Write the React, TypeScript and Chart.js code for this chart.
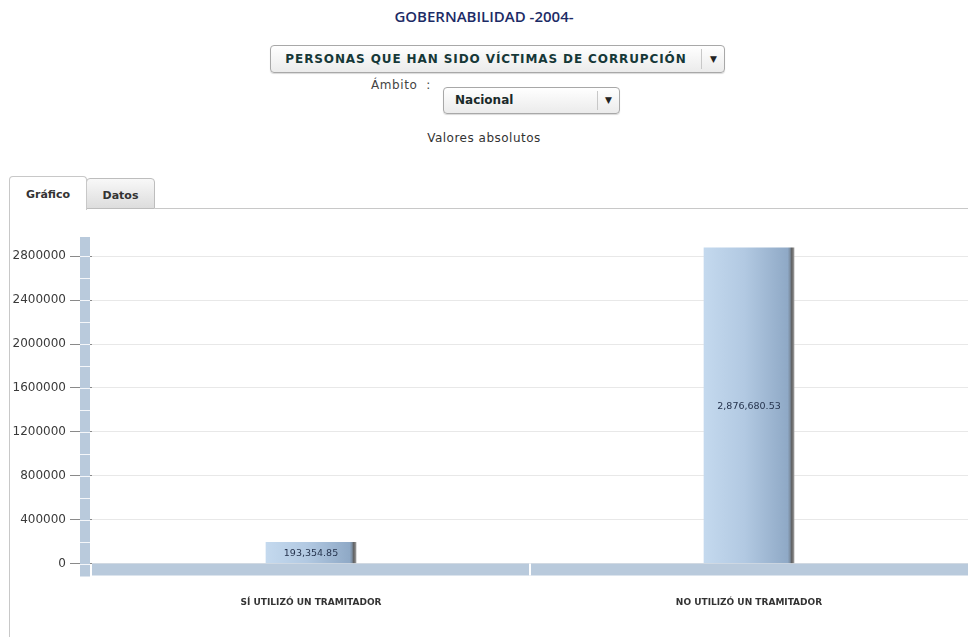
import React, { useEffect, useRef } from "react";
import { Chart, registerables } from "chart.js";

Chart.register(...registerables);

const TITLE = "GOBERNABILIDAD -2004-";
const INDICATOR = "PERSONAS QUE HAN SIDO VÍCTIMAS DE CORRUPCIÓN";
const SCOPE_LABEL = "Ámbito :";
const SCOPE = "Nacional";
const SUBTITLE = "Valores absolutos";
const TABS = ["Gráfico", "Datos"];

const categories = ["SÍ UTILIZÓ UN TRAMITADOR", "NO UTILIZÓ UN TRAMITADOR"];
const values = [193354.85, 2876680.53];
const yTickStep = 400000;
const yTickCount = 8;
const yMax = 2975000;

const fmt = (v: number) =>
  v.toLocaleString("en-US", { minimumFractionDigits: 2, maximumFractionDigits: 2 });

const decorPlugin = {
  id: "decor",
  beforeDatasetsDraw(chart: any) {
    const { ctx, chartArea, scales } = chart;
    const y = scales.y;
    const zero = y.getPixelForValue(0);
    ctx.save();
    ctx.fillStyle = "#b9cadc";
    ctx.fillRect(chartArea.left, zero, chartArea.right - chartArea.left, 12);
    const sepX = (scales.x.getPixelForValue(0) + scales.x.getPixelForValue(1)) / 2;
    ctx.fillStyle = "#ffffff";
    ctx.fillRect(sepX - 1, zero, 2, 12);
    ctx.fillStyle = "#b9cadc";
    ctx.fillRect(chartArea.left - 12, chartArea.top, 10, zero + 13 - chartArea.top);
    ctx.fillStyle = "rgba(255,255,255,0.85)";
    for (let v = 0; v <= yMax; v += yTickStep / 2) {
      const py = Math.round(y.getPixelForValue(v));
      ctx.fillRect(chartArea.left - 12, py, 10, 1);
    }
    ctx.restore();
  },
  afterDatasetsDraw(chart: any) {
    const { ctx } = chart;
    const meta = chart.getDatasetMeta(0);
    ctx.save();
    ctx.font = "9.5px 'DejaVu Sans'";
    ctx.fillStyle = "#26344e";
    ctx.textAlign = "center";
    ctx.textBaseline = "middle";
    meta.data.forEach((bar: any, i: number) => {
      const p = bar.getProps(["x", "y", "base"], true);
      ctx.fillText(fmt(values[i]), p.x, (p.y + p.base) / 2 + 1);
    });
    ctx.restore();
  },
};

function ChartCanvas() {
  const ref = useRef<HTMLCanvasElement | null>(null);
  useEffect(() => {
    if (!ref.current) return;
    const chart = new Chart(ref.current, {
      type: "bar",
      data: {
        labels: categories,
        datasets: [
          {
            data: values,
            barThickness: 90,
            backgroundColor: (c: any) => {
              const ch = c.chart;
              if (!ch.chartArea) return "#a9c1db";
              const x = ch.scales.x.getPixelForValue(c.dataIndex);
              const g = ch.ctx.createLinearGradient(x - 45, 0, x + 45, 0);
              g.addColorStop(0, "#c4d9ee");
              g.addColorStop(0.45, "#b2c9e2");
              g.addColorStop(0.93, "#8fa9c6");
              g.addColorStop(0.955, "#7d8fa3");
              g.addColorStop(0.975, "#5e5e5e");
              g.addColorStop(1, "#9a9a9a");
              return g;
            },
            borderWidth: 0,
          },
        ],
      },
      options: {
        animation: false,
        responsive: false,
        maintainAspectRatio: false,
        layout: { padding: { top: 22, left: 0, right: 0, bottom: 0 } },
        plugins: { legend: { display: false }, tooltip: { enabled: false } },
        scales: {
          x: {
            grid: { display: false, drawTicks: false },
            border: { display: false },
            ticks: {
              padding: 34,
              color: "#333333",
              font: { family: "'DejaVu Sans'", size: 9, weight: "bold" },
            },
            afterFit: (s: any) => {
              s.height = 73.5;
            },
          },
          y: {
            min: 0,
            max: yMax,
            afterBuildTicks: (s: any) => {
              const t: any[] = [];
              for (let i = 0; i < yTickCount; i++) t.push({ value: i * yTickStep });
              s.ticks = t;
            },
            ticks: {
              padding: 4,
              color: "#3a3a3a",
              font: { family: "'DejaVu Sans'", size: 12 },
              callback: (v: any) => String(v),
            },
            grid: { color: "#e8e8e8", tickColor: "#8a8a8a", tickLength: 22 },
            border: { display: false },
            afterFit: (s: any) => {
              s.width = 92;
            },
          },
        },
      },
      plugins: [decorPlugin],
    } as any);
    return () => chart.destroy();
  }, []);
  return (
    <canvas
      ref={ref}
      width={968}
      height={422}
      style={{ position: "absolute", left: 0, top: 215, width: 968, height: 422 }}
    />
  );
}

export default function App() {
  const font = "'DejaVu Sans', sans-serif";
  return (
    <div
      style={{
        position: "absolute",
        left: 0,
        top: 0,
        width: 968,
        height: 637,
        overflow: "hidden",
        background: "#ffffff",
        fontFamily: font,
      }}
    >
      <div
        style={{
          position: "absolute",
          top: 6,
          left: 0,
          width: 968,
          textAlign: "center",
          fontSize: 15,
          color: "#1c2b66",
          fontFamily: "'Open Sans', sans-serif",
          fontWeight: 600,
        }}
      >
        {TITLE}
      </div>
      <div
        style={{
          position: "absolute",
          left: 270,
          top: 45,
          width: 455,
          height: 28,
          boxSizing: "border-box",
          border: "1px solid #a8a8a8",
          borderRadius: 4,
          background: "linear-gradient(#ffffff, #ebebeb)",
          boxShadow: "0 1px 1px rgba(0,0,0,0.15)",
        }}
      >
        <div
          style={{
            position: "absolute",
            left: 0,
            top: 0,
            width: 430,
            lineHeight: "26px",
            textAlign: "center",
            fontWeight: "bold",
            fontSize: 12,
            letterSpacing: 0.9,
            color: "#163838",
            whiteSpace: "nowrap",
          }}
        >
          {INDICATOR}
        </div>
        <div style={{ position: "absolute", left: 430, top: 3, width: 1, height: 20, background: "#c8c8c8" }} />
        <div
          style={{
            position: "absolute",
            left: 431,
            top: 0,
            width: 23,
            lineHeight: "26px",
            textAlign: "center",
            fontSize: 9,
            color: "#222",
          }}
        >
          ▼
        </div>
      </div>
      <div
        style={{
          position: "absolute",
          left: 371,
          top: 78,
          fontSize: 12,
          letterSpacing: 0.6,
          color: "#444",
          whiteSpace: "pre",
        }}
      >
        {SCOPE_LABEL.replace(" :", "  :")}
      </div>
      <div
        style={{
          position: "absolute",
          left: 443,
          top: 87,
          width: 177,
          height: 27,
          boxSizing: "border-box",
          border: "1px solid #a8a8a8",
          borderRadius: 4,
          background: "linear-gradient(#ffffff, #ebebeb)",
          boxShadow: "0 1px 1px rgba(0,0,0,0.15)",
        }}
      >
        <div
          style={{
            position: "absolute",
            left: 11,
            top: 0,
            lineHeight: "25px",
            fontWeight: "bold",
            fontSize: 12,
            color: "#1a2a2a",
          }}
        >
          {SCOPE}
        </div>
        <div style={{ position: "absolute", left: 153, top: 3, width: 1, height: 19, background: "#c8c8c8" }} />
        <div
          style={{
            position: "absolute",
            left: 154,
            top: 0,
            width: 21,
            lineHeight: "25px",
            textAlign: "center",
            fontSize: 9,
            color: "#222",
          }}
        >
          ▼
        </div>
      </div>
      <div
        style={{
          position: "absolute",
          top: 131,
          left: 0,
          width: 968,
          textAlign: "center",
          fontSize: 12,
          letterSpacing: 0.5,
          color: "#333",
        }}
      >
        {SUBTITLE}
      </div>
      <div style={{ position: "absolute", left: 155, top: 208, width: 813, height: 1, background: "#c8c8c8" }} />
      <div style={{ position: "absolute", left: 9, top: 208, width: 1, height: 429, background: "#c8c8c8" }} />
      <div
        style={{
          position: "absolute",
          left: 86,
          top: 178,
          width: 69,
          height: 31,
          boxSizing: "border-box",
          border: "1px solid #bdbdbd",
          borderRadius: "4px 4px 0 0",
          background: "linear-gradient(#f8f8f8, #dddddd)",
          textAlign: "center",
          lineHeight: "33px",
          fontWeight: "bold",
          fontSize: 11,
          color: "#333",
        }}
      >
        {TABS[1]}
      </div>
      <div
        style={{
          position: "absolute",
          left: 9,
          top: 176,
          width: 78,
          height: 34,
          boxSizing: "border-box",
          border: "1px solid #c8c8c8",
          borderBottom: "none",
          borderRadius: "4px 4px 0 0",
          background: "#ffffff",
          textAlign: "center",
          lineHeight: "36px",
          fontWeight: "bold",
          fontSize: 11,
          color: "#333",
        }}
      >
        {TABS[0]}
      </div>
      <ChartCanvas />
    </div>
  );
}
